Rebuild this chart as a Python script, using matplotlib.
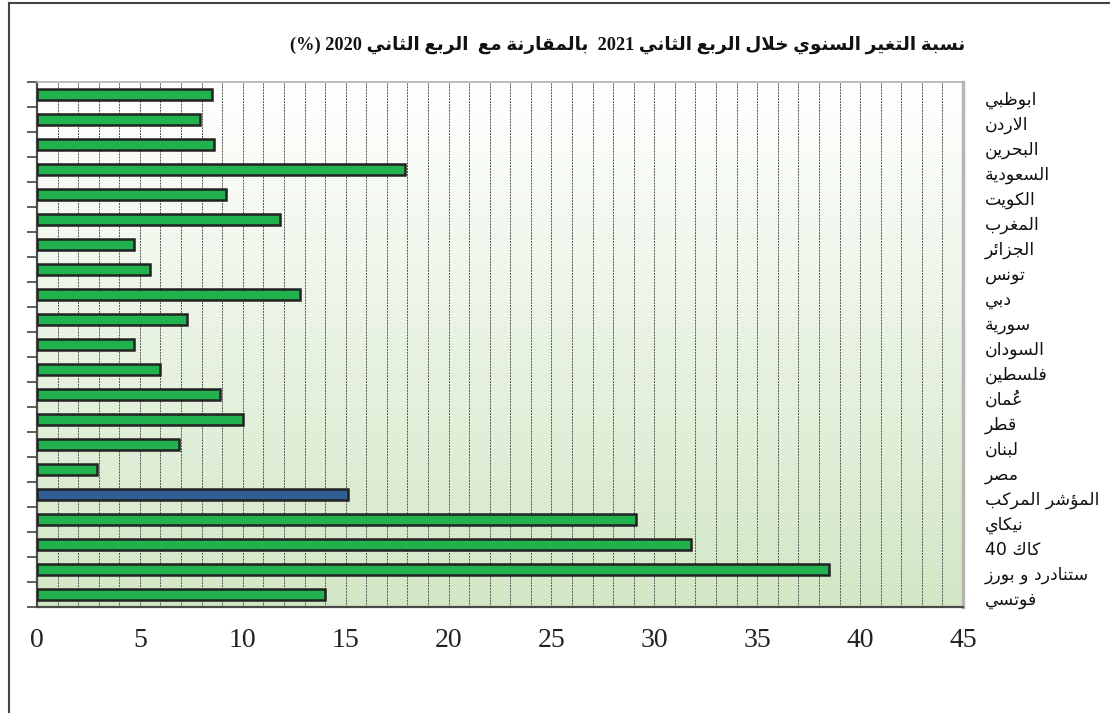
import re
import unicodedata
import numpy as np
import matplotlib
matplotlib.use('Agg')
import matplotlib.pyplot as plt
from matplotlib.lines import Line2D
from matplotlib.colors import LinearSegmentedColormap

# data, top to bottom as in the chart
markets = ['ابوظبي', 'الاردن', 'البحرين', 'السعودية', 'الكويت', 'المغرب',
           'الجزائر', 'تونس', 'دبي', 'سورية', 'السودان', 'فلسطين', 'عُمان',
           'قطر', 'لبنان', 'مصر', 'المؤشر المركب', 'نيكاي', 'كاك' + ' 40',
           'ستنادرد و بورز', 'فوتسي']
change_pct = [8.5, 7.9, 8.6, 17.9, 9.2, 11.8,
              4.7, 5.5, 12.8, 7.3, 4.7, 6.0, 8.9,
              10.0, 6.9, 2.9, 15.1, 29.1, 31.8,
              38.5, 14.0]
composite = 'المؤشر المركب'
title = 'نسبة التغير السنوي خلال الربع الثاني 2021  بالمقارنة مع  الربع الثاني 2020 (%)'
xticks = [0, 5, 10, 15, 20, 25, 30, 35, 40, 45]

GREEN = '#21b14d'
BLUE = '#305e95'

# ---- tiny arabic shaper (matplotlib has no text shaping) ----
def _form(ch, form):
    try:
        return unicodedata.lookup(unicodedata.name(ch) + ' ' + form + ' FORM')
    except (KeyError, ValueError):
        return None

LAM_ALEF = {'\u0627': 'ARABIC LIGATURE LAM WITH ALEF',
            '\u0623': 'ARABIC LIGATURE LAM WITH ALEF WITH HAMZA ABOVE',
            '\u0625': 'ARABIC LIGATURE LAM WITH ALEF WITH HAMZA BELOW',
            '\u0622': 'ARABIC LIGATURE LAM WITH ALEF WITH MADDA ABOVE'}

def _jtype(u):
    if isinstance(u, tuple):
        return 'R'
    if unicodedata.category(u) == 'Mn':
        return 'T'
    if _form(u, 'INITIAL') and _form(u, 'MEDIAL'):
        return 'D'
    if _form(u, 'FINAL'):
        return 'R'
    return 'U'

def shape(text):
    units = []
    i = 0
    while i < len(text):
        c = text[i]
        if c == '\u0644' and i + 1 < len(text) and text[i + 1] in LAM_ALEF:
            units.append(('la', text[i + 1]))
            i += 2
        else:
            units.append(c)
            i += 1
    types = [_jtype(u) for u in units]
    out = []
    for k, u in enumerate(units):
        t = types[k]
        if t in ('T', 'U'):
            out.append(u)
            continue
        p = k - 1
        while p >= 0 and types[p] == 'T':
            p -= 1
        n = k + 1
        while n < len(units) and types[n] == 'T':
            n += 1
        cp = p >= 0 and types[p] == 'D'
        cn = t == 'D' and n < len(units) and types[n] in ('D', 'R')
        if isinstance(u, tuple):
            name = LAM_ALEF[u[1]] + (' FINAL FORM' if cp else ' ISOLATED FORM')
            out.append(unicodedata.lookup(name))
            continue
        form = 'MEDIAL' if cp and cn else 'FINAL' if cp else 'INITIAL' if cn else 'ISOLATED'
        out.append(_form(u, form) or u)
    return ''.join(out)

MIRROR = {'(': ')', ')': '('}

def rtl(text):
    # rtl paragraph: reverse everything but digit runs
    s = shape(text)
    toks = re.findall(r'[0-9]+|.', s)
    toks = [MIRROR.get(t, t) for t in reversed(toks)]
    return ''.join(toks)

plt.rcParams['font.family'] = ['Liberation Serif', 'DejaVu Sans']

fig = plt.figure(figsize=(11.1, 7.13), dpi=100)
ax = fig.add_axes([37 / 1110, 1 - 607 / 713, 926 / 1110, 525 / 713])

y = np.arange(len(markets))
colors = [BLUE if m == composite else GREEN for m in markets]
ax.barh(y, change_pct, height=0.46, color=colors, edgecolor='#222222',
        linewidth=1.8, zorder=3)

ax.set_xlim(0, 45)
ax.set_ylim(len(markets) - 0.5, -0.5)

# background gradient white -> light green
cmap = LinearSegmentedColormap.from_list('bg', ['#ffffff', '#d2e7c5'])
grad = np.linspace(0, 1, 256).reshape(-1, 1)
ax.imshow(grad, cmap=cmap, aspect='auto', extent=[0, 45, len(markets) - 0.5, -0.5],
          origin='upper', zorder=0)

for gx in range(1, 45):
    ax.axvline(gx, color='#555555', linewidth=0.7, linestyle=(0, (2, 1)), zorder=1)

ax.set_xticks(xticks)
ax.set_xticklabels([str(v) for v in xticks], fontsize=20, color='#222222')
ax.tick_params(axis='x', length=0, pad=15)
ax.set_yticks(np.arange(len(markets) + 1) - 0.5)
ax.set_yticklabels([])
ax.tick_params(axis='y', length=7, width=1.2, color='#444444', direction='out')

for side in ['left', 'bottom']:
    ax.spines[side].set_color('#4a4a4a')
    ax.spines[side].set_linewidth(1.6)
ax.spines['top'].set_color('#b0b0b0')
ax.spines['top'].set_linewidth(1.2)
ax.spines['right'].set_color('#b5b5b5')
ax.spines['right'].set_linewidth(2.5)

for yi, m in zip(y, markets):
    ax.annotate(rtl(m), xy=(1, yi), xycoords=('axes fraction', 'data'),
                xytext=(16, -4), textcoords='offset points', ha='left',
                va='center', fontsize=12.5, family=['DejaVu Sans'], color='#111111')

fig.text(965 / 1110, 1 - 45 / 713, rtl(title), ha='right', va='center',
         fontsize=13.2, fontweight='bold', family=['Liberation Serif', 'DejaVu Sans'],
         color='#111111')

# outer frame
fig.add_artist(Line2D([9 / 1110, 9 / 1110], [0, 1 - 3 / 713], transform=fig.transFigure,
                      color='#444444', linewidth=1.5))
fig.add_artist(Line2D([9 / 1110, 1], [1 - 3 / 713, 1 - 3 / 713], transform=fig.transFigure,
                      color='#444444', linewidth=1.5))

fig.savefig('out.png', dpi=100)
